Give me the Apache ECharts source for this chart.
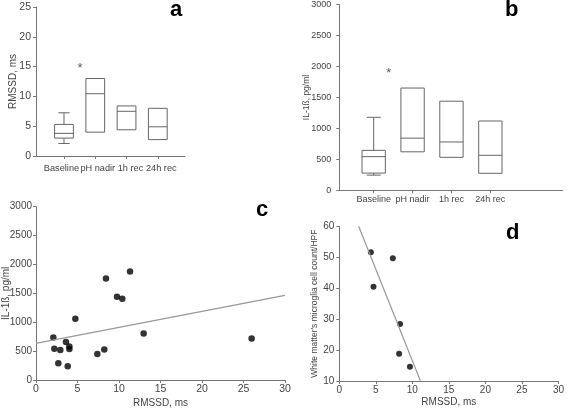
<!DOCTYPE html>
<html><head><meta charset="utf-8">
<script src="https://cdn.jsdelivr.net/npm/echarts@6/dist/echarts.min.js"></script>
<style>html,body{margin:0;padding:0;background:#fff}#c{width:567px;height:409px}</style>
</head><body><div id="c"></div>
<script>
// ---- data ----
const categoriesA = ['Baseline', 'pH nadir', '1h rec', '24h rec'];
const categoriesB = ['Baseline', 'pH nadir', '1h rec', '24h rec'];
// [position, whiskerLow, q1, median, q3, whiskerHigh]
const boxesA = [
  [1, 2.1, 3.0, 3.8, 5.3, 7.25],
  [2, null, 4.0, 10.45, 13.0, null],
  [3, null, 4.4, 7.5, 8.4, null],
  [4, null, 2.75, 4.9, 8.0, null]
];
const boxesB = [
  [1, 245, 278, 544, 646, 1180],
  [2, null, 622, 843, 1653, null],
  [3, null, 533, 781, 1440, null],
  [4, null, 275, 566, 1120, null]
];
const starA = [[1.51, 15.2]];
const starB = [[1.39, 1934]];
const pointsC = [
  [2.09, 737], [2.21, 541], [2.69, 288], [2.93, 518], [3.61, 656], [3.82, 236],
  [4.02, 582], [4.02, 535], [4.74, 1060], [7.39, 449], [8.23, 530], [8.43, 1756],
  [9.76, 1440], [10.40, 1405], [11.33, 1877], [12.97, 806], [25.98, 720]
];
const trendC = [[0, 635], [30, 1465]];
const pointsD = [[4.32, 51.6], [4.68, 40.5], [7.33, 49.7], [8.32, 28.4], [8.19, 18.8], [9.67, 14.6]];
const trendD = [[2.65, 60], [11.11, 10]];
const ticksAB = [1, 2, 3, 4];
const labelsOdd = [1, 3];
const labelsEven = [2, 4];

const axisGray = '#777';
const textGray = '#444';
// label nudges for panel a (style only): padding [top,right,bottom,left]
const nudgeA = [[0, 5, 0, 0], [0, 0, 0, 5], [0, 0, 0, 8], [0, 0, 0, 7]];

function boxRender(params, api) {
  const x = api.value(0);
  const lo = api.value(1), q1 = api.value(2), med = api.value(3), q3 = api.value(4), hi = api.value(5);
  const w = api.size([1, 0])[0] * 0.6;
  const cap = w * 0.3;
  const pQ1 = api.coord([x, q1]), pQ3 = api.coord([x, q3]), pMed = api.coord([x, med]);
  const cx = pQ1[0];
  const style = { stroke: '#666', fill: 'none', lineWidth: 1 };
  const children = [
    { type: 'rect', shape: { x: cx - w / 2, y: pQ3[1], width: w, height: pQ1[1] - pQ3[1] }, style: style },
    { type: 'line', shape: { x1: cx - w / 2, y1: pMed[1], x2: cx + w / 2, y2: pMed[1] }, style: style }
  ];
  if (!isNaN(hi) && hi != null) {
    const pHi = api.coord([x, hi]);
    children.push({ type: 'line', shape: { x1: cx, y1: pQ3[1], x2: cx, y2: pHi[1] }, style: style });
    children.push({ type: 'line', shape: { x1: cx - cap, y1: pHi[1], x2: cx + cap, y2: pHi[1] }, style: style });
  }
  if (!isNaN(lo) && lo != null) {
    const pLo = api.coord([x, lo]);
    children.push({ type: 'line', shape: { x1: cx, y1: pQ1[1], x2: cx, y2: pLo[1] }, style: style });
    children.push({ type: 'line', shape: { x1: cx - cap, y1: pLo[1], x2: cx + cap, y2: pLo[1] }, style: style });
  }
  return { type: 'group', children: children };
}

const chart = echarts.init(document.getElementById('c'), null, { renderer: 'canvas' });

function yAxisBase(idx, min, max, interval, name, nameGap, nameSize, labelSize, margin) {
  return {
    gridIndex: idx, type: 'value', min: min, max: max, interval: interval,
    name: name, nameLocation: 'middle', nameGap: nameGap, nameMoveOverlap: false,
    nameTextStyle: { fontFamily: 'Liberation Sans', fontSize: nameSize, color: textGray },
    axisLine: { show: true, lineStyle: { color: axisGray } },
    axisTick: { show: true, length: 3, lineStyle: { color: axisGray } },
    axisLabel: { fontFamily: 'Liberation Sans', fontSize: labelSize, color: textGray, margin: margin, formatter: v => String(v) },
    splitLine: { show: false }
  };
}

function catAxis(gi, min, max, cats, labelVals, showLine, fontSize, margin, nudge) {
  const rich = {};
  const base = { fontFamily: 'Liberation Sans', fontSize: fontSize, color: textGray };
  cats.forEach((c, i) => { rich['c' + i] = Object.assign({}, base, nudge ? { padding: nudge[i] } : {}); });
  return {
    gridIndex: gi, type: 'value', min: min, max: max, position: 'bottom',
    axisLine: { show: showLine, onZero: false, lineStyle: { color: axisGray } },
    axisTick: { show: showLine, length: 3, customValues: ticksAB, lineStyle: { color: axisGray } },
    axisLabel: { customValues: labelVals, showMinLabel: true, showMaxLabel: true, hideOverlap: false,
      formatter: v => { const i = Math.round(v) - 1; return '{c' + i + '|' + cats[i] + '}'; },
      rich: rich, fontFamily: 'Liberation Sans', fontSize: fontSize, color: textGray, margin: margin },
    splitLine: { show: false }
  };
}

function starSeries(xi, yi, data) {
  return {
    type: 'scatter', xAxisIndex: xi, yAxisIndex: yi, data: data, symbolSize: 1,
    itemStyle: { color: 'rgba(0,0,0,0)' },
    label: { show: true, formatter: '*', position: 'inside', offset: [0, 3], fontSize: 13, color: '#333', fontFamily: 'Liberation Sans' }
  };
}

const option = {
  animation: false,
  backgroundColor: '#fff',
  grid: [
    { left: 36, top: 7, width: 149, height: 149 },
    { left: 339.3, top: 4.7, width: 223.4, height: 185.6 },
    { left: 36, top: 206.7, width: 249, height: 173.6 },
    { left: 339.3, top: 226.3, width: 222.4, height: 154.7 }
  ],
  xAxis: [
    catAxis(0, 0.105, 4.87, categoriesA, labelsOdd, true, 9.2, 8, nudgeA),
    catAxis(1, 0.116, 5.86, categoriesB, ticksAB, true, 9, 5, null),
    {
      gridIndex: 2, type: 'value', min: 0, max: 30, interval: 5,
      name: 'RMSSD, ms', nameLocation: 'middle', nameGap: 18, nameMoveOverlap: false,
      nameTextStyle: { fontFamily: 'Liberation Sans', fontSize: 10, color: textGray, verticalAlign: 'top' },
      axisLine: { lineStyle: { color: axisGray } },
      axisTick: { show: true, length: 3, lineStyle: { color: axisGray } },
      axisLabel: { fontFamily: 'Liberation Sans', fontSize: 10.5, color: textGray, margin: 4 },
      splitLine: { show: false }
    },
    {
      gridIndex: 3, type: 'value', min: 0, max: 30, interval: 5,
      name: 'RMSSD, ms', nameLocation: 'middle', nameGap: 16, nameMoveOverlap: false,
      nameTextStyle: { fontFamily: 'Liberation Sans', fontSize: 10, color: textGray, verticalAlign: 'top' },
      axisLine: { lineStyle: { color: axisGray } },
      axisTick: { show: true, length: 3, lineStyle: { color: axisGray } },
      axisLabel: { fontFamily: 'Liberation Sans', fontSize: 10, color: textGray, margin: 4 },
      splitLine: { show: false }
    },
    catAxis(0, 0.105, 4.87, categoriesA, labelsEven, false, 9.2, 8, nudgeA)
  ],
  yAxis: [
    yAxisBase(0, 0, 25, 5, 'RMSSD, ms', 18, 10, 10.5, 5),
    yAxisBase(1, 0, 3000, 500, 'IL-1ß, pg/ml', 28, 8.5, 9, 8),
    yAxisBase(2, 0, 3000, 500, 'IL-1ß, pg/ml', 25, 10, 10, 4),
    yAxisBase(3, 10, 60, 10, "White matter's microglia cell count/HPF", 20, 8.5, 10, 5)
  ],
  series: [
    { type: 'custom', xAxisIndex: 0, yAxisIndex: 0, data: boxesA, renderItem: boxRender, encode: { x: 0, y: [1, 2, 3, 4, 5] } },
    { type: 'custom', xAxisIndex: 1, yAxisIndex: 1, data: boxesB, renderItem: boxRender, encode: { x: 0, y: [1, 2, 3, 4, 5] } },
    starSeries(0, 0, starA),
    starSeries(1, 1, starB),
    { type: 'line', xAxisIndex: 2, yAxisIndex: 2, data: trendC, symbol: 'none', lineStyle: { color: '#999', width: 1.2 } },
    { type: 'scatter', xAxisIndex: 2, yAxisIndex: 2, data: pointsC, symbolSize: 6.5, itemStyle: { color: '#000' } },
    { type: 'line', xAxisIndex: 3, yAxisIndex: 3, data: trendD, symbol: 'none', lineStyle: { color: '#999', width: 1.2 } },
    { type: 'scatter', xAxisIndex: 3, yAxisIndex: 3, data: pointsD, symbolSize: 6, itemStyle: { color: '#000' } }
  ],
  graphic: [
    { type: 'text', left: 170, top: -1, style: { text: 'a', fontFamily: 'Liberation Sans', fontWeight: 'bold', fontSize: 22, fill: '#000' } },
    { type: 'text', left: 505, top: -1, style: { text: 'b', fontFamily: 'Liberation Sans', fontWeight: 'bold', fontSize: 22, fill: '#000' } },
    { type: 'text', left: 256, top: 199, style: { text: 'c', fontFamily: 'Liberation Sans', fontWeight: 'bold', fontSize: 22, fill: '#000' } },
    { type: 'text', left: 506, top: 222, style: { text: 'd', fontFamily: 'Liberation Sans', fontWeight: 'bold', fontSize: 22, fill: '#000' } }
  ]
};
chart.setOption(option);
</script></body></html>
